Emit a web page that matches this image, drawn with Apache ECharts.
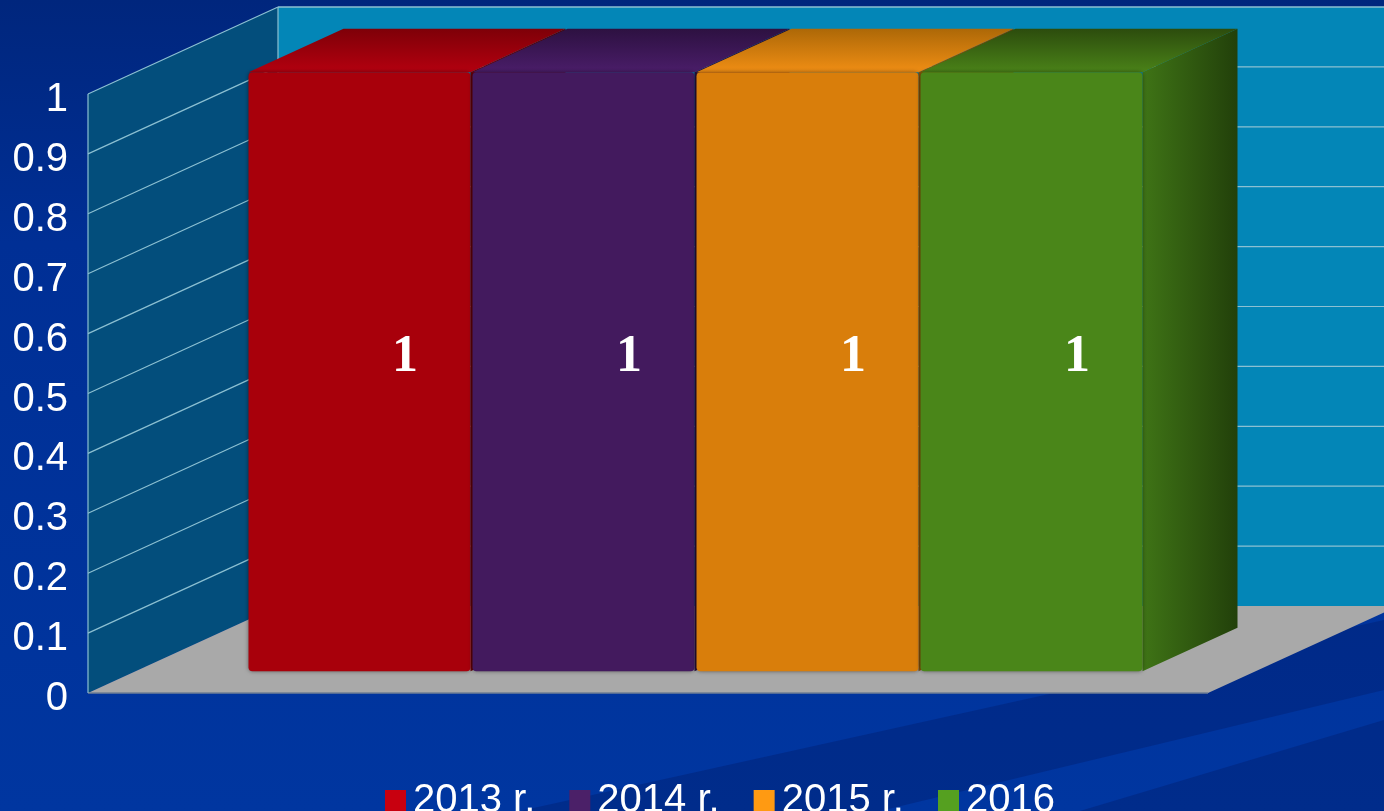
<!DOCTYPE html>
<html>
<head>
<meta charset="utf-8">
<title>chart</title>
<script src="https://cdn.jsdelivr.net/npm/echarts@6/dist/echarts.min.js"></script>
<style>
    html, body { margin: 0; padding: 0; }
    #main { width: 1384px; height: 811px; }
</style>
</head>
<body>
<div id="main"></div>
<script>
var categories = [''];
var seriesNames = ['2013 r.', '2014 r.', '2015 r.', '2016'];
var values = [1, 1, 1, 1];
var yTicks = [0, 0.1, 0.2, 0.3, 0.4, 0.5, 0.6, 0.7, 0.8, 0.9, 1];

// colours: legend swatch, front face, top (front -> back), side (front -> back)
var legendColors = ['#c8000f', '#4b2068', '#ff9a12', '#55a020'];
var frontColors = ['#a8000b', '#431a5e', '#d97e0b', '#4a8619'];
var topColors = [['#b4000f', '#7e0008'], ['#4a1d69', '#2d1141'], ['#f08e14', '#ad6807'], ['#4a8218', '#2c4c0d']];
var sideColors = [['#6a0006', '#4a0004'], ['#2a0f3c', '#1e0a2b'], ['#8f5506', '#6b3f04'], ['#3f7416', '#22400a']];

var DEPTH = [190, -87];      // full floor depth on screen
var CAT_GAP = 0.2;

var app = (function () {
    var chart = echarts.init(document.getElementById('main'));

    var renderFrame = function (params, api) {
        var cs = params.coordSys;
        var L = cs.x, R = cs.x + cs.width;
        var dx = DEPTH[0], dy = DEPTH[1];
        var y0 = api.coord([0, yTicks[0]])[1];
        var y1 = api.coord([0, yTicks[yTicks.length - 1]])[1];
        var lineStyle = { stroke: '#8cc0d2', lineWidth: 1.2 };
        var children = [
            { type: 'polygon', shape: { points: [[L + dx, y1 + dy], [R + dx + 40, y1 + dy], [R + dx + 40, y0 + dy], [L + dx, y0 + dy]] },
              style: { fill: '#0386b7' } },
            { type: 'polygon', shape: { points: [[L, y0], [L, y1], [L + dx, y1 + dy], [L + dx, y0 + dy]] },
              style: { fill: '#034e7c' } },
            { type: 'polygon', shape: { points: [[L, y0], [R, y0], [R + dx, y0 + dy], [L + dx, y0 + dy]] },
              style: { fill: '#a9a9a9' } },
            { type: 'line', shape: { x1: L, y1: y0, x2: R, y2: y0 }, style: { stroke: '#6f7f95', lineWidth: 1.5 } },
            { type: 'line', shape: { x1: L, y1: y0, x2: L, y2: y1 }, style: lineStyle },
            { type: 'line', shape: { x1: L + dx, y1: y0 + dy, x2: L + dx, y2: y1 + dy }, style: lineStyle },
            { type: 'line', shape: { x1: L + dx, y1: y1 + dy, x2: R + dx + 40, y2: y1 + dy }, style: lineStyle }
        ];
        for (var k = 1; k < yTicks.length; k++) {
            var yt = api.coord([0, yTicks[k]])[1];
            children.push({ type: 'line', shape: { x1: L, y1: yt, x2: L + dx, y2: yt + dy }, style: lineStyle });
            children.push({ type: 'line', shape: { x1: L + dx, y1: yt + dy, x2: R + dx + 40, y2: yt + dy }, style: lineStyle });
        }
        return { type: 'group', children: children };
    };

    var renderBar = function (params, api) {
        var i = params.seriesIndex;
        var n = seriesNames.length;
        var catW = api.size([1, 0])[0];
        var inner = catW * (1 - CAT_GAP);
        var slot = inner / n;
        var cx = api.coord([api.value(0), 0])[0];
        var base = api.coord([api.value(0), 0])[1] + DEPTH[1] * 0.25;
        var top = api.coord([api.value(0), api.value(1)])[1] + DEPTH[1] * 0.25;
        var x0 = cx - inner / 2 + i * slot + DEPTH[0] * 0.25 + 1;
        var w = slot - 2;
        var bx = DEPTH[0] * 0.5, by = DEPTH[1] * 0.5;

        return {
            type: 'group',
            children: [
                { type: 'polygon',
                  shape: { points: [[x0 + w, top], [x0 + w, base], [x0 + w + bx, base + by], [x0 + w + bx, top + by]] },
                  style: { fill: new echarts.graphic.LinearGradient(0, 0, 1, 0, [
                      { offset: 0, color: sideColors[i][0] }, { offset: 1, color: sideColors[i][1] }]) } },
                { type: 'polygon',
                  shape: { points: [[x0, top], [x0 + w, top], [x0 + w + bx, top + by], [x0 + bx, top + by]] },
                  style: { fill: new echarts.graphic.LinearGradient(0, 1, 0, 0, [
                      { offset: 0, color: topColors[i][0] }, { offset: 1, color: topColors[i][1] }]) } },
                { type: 'rect',
                  shape: { x: x0, y: top, width: w, height: base - top, r: 4 },
                  style: { fill: frontColors[i], shadowBlur: 4, shadowColor: 'rgba(0,0,0,0.45)' } },
                { type: 'text',
                  style: {
                      text: String(api.value(1)),
                      x: x0 + w / 2 + DEPTH[0] * 0.24,
                      y: (top + base) / 2 + DEPTH[1] * 0.25 + 8,
                      align: 'center', verticalAlign: 'middle',
                      fill: '#ffffff',
                      font: 'bold 52px "Liberation Serif", "Times New Roman", serif'
                  } }
            ]
        };
    };

    var initChart = function () {
        var series = [];
        for (var i = 0; i < seriesNames.length; i++) {
            series.push({
                name: seriesNames[i],
                type: 'custom',
                clip: false,
                z: 3,
                itemStyle: { color: legendColors[i] },
                renderItem: renderBar,
                data: [[0, values[i]]]
            });
        }
        series.push({
            name: 'frame',
            type: 'custom',
            clip: false,
            silent: true,
            z: 1,
            renderItem: renderFrame,
            data: [[0, 0]]
        });

        chart.setOption({
            backgroundColor: new echarts.graphic.LinearGradient(0, 0, 0, 1, [
                { offset: 0, color: '#00267d' },
                { offset: 0.3, color: '#002f95' },
                { offset: 1, color: '#0036a0' }
            ]),
            animation: false,
            graphic: [
                { type: 'polygon', z: -5, silent: true,
                  shape: { points: [[520, 811], [1384, 620], [1384, 690], [880, 811]] },
                  style: { fill: 'rgba(0,25,100,0.35)' } },
                { type: 'polygon', z: -5, silent: true,
                  shape: { points: [[1080, 811], [1384, 720], [1384, 811]] },
                  style: { fill: 'rgba(0,25,100,0.35)' } }
            ],
            grid: { left: 88, right: 176, top: 94, bottom: 118 },
            legend: {
                data: seriesNames,
                left: 380,
                top: 776,
                icon: 'rect',
                itemWidth: 21,
                itemHeight: 22,
                itemGap: 34,
                textStyle: { color: '#ffffff', fontSize: 40, fontFamily: '"Liberation Sans", Arial, sans-serif', padding: [0, 0, 0, 2] }
            },
            xAxis: {
                type: 'category',
                data: categories,
                show: false
            },
            yAxis: {
                type: 'value',
                min: 0,
                max: 1,
                interval: 0.1,
                axisLine: { show: false },
                axisTick: { show: false },
                splitLine: { show: false },
                axisLabel: {
                    color: '#ffffff',
                    fontSize: 40,
                    fontFamily: '"Liberation Sans", Arial, sans-serif',
                    margin: 20,
                    verticalAlign: 'top',
                    lineHeight: 12
                }
            },
            series: series
        });
    };

    return { init: initChart };
})();

app.init();
</script>
</body>
</html>
